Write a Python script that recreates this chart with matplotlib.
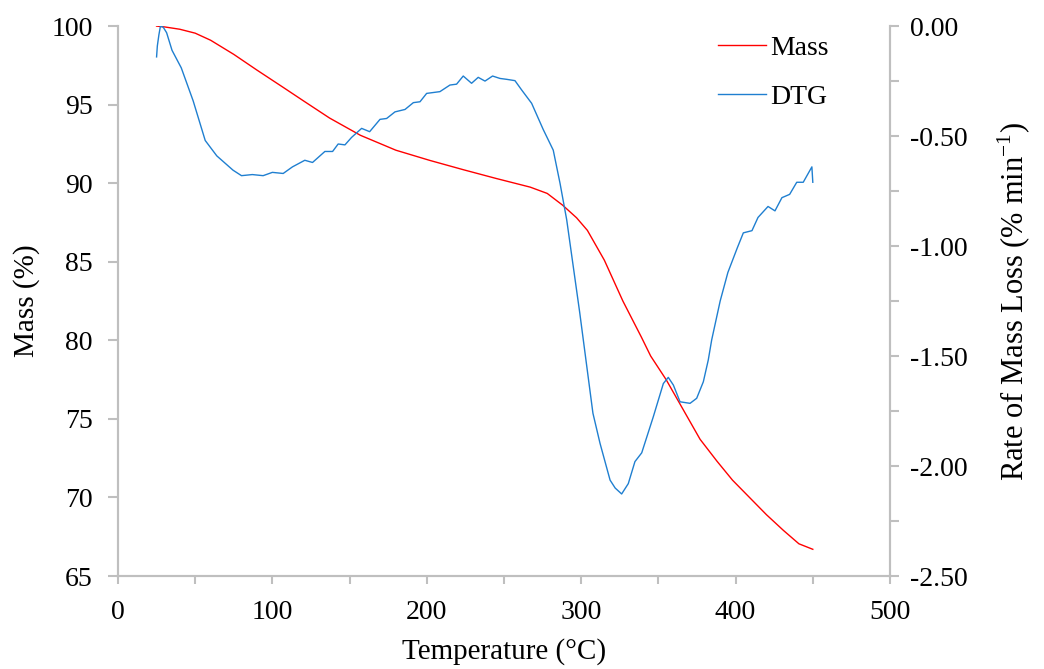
import numpy as np
import matplotlib.pyplot as plt
from matplotlib.ticker import MultipleLocator, FuncFormatter

# mass curve (left axis)
mass_temp = [25, 30, 40, 50, 60, 75, 90, 107, 120, 137, 157, 180, 202, 224, 245, 267, 278,
             288, 297, 304, 315, 327, 339, 345, 355, 366, 377, 388, 398, 411, 420, 431, 441, 450]
mass_val = [100.0, 99.95, 99.8, 99.55, 99.1, 98.2, 97.2, 96.1, 95.25, 94.15, 93.05, 92.1, 91.45,
            90.85, 90.3, 89.75, 89.35, 88.6, 87.8, 87.0, 85.1, 82.5, 80.2, 79.0, 77.5, 75.6,
            73.7, 72.3, 71.1, 69.8, 68.9, 67.9, 67.05, 66.7]

# DTG curve (right axis)
dtg_temp = [25, 25.5, 26.5, 27.5, 29.3, 31.5, 35, 41, 48.7, 56.5, 64, 74.5, 80, 87, 94, 100, 107,
            113, 121, 126, 134, 139, 142.6, 147, 151.3, 157.8, 163, 169.7, 174, 179.4, 185.9,
            191.3, 195.6, 199.9, 208.5, 215, 219.3, 223.6, 229, 233.3, 237.7, 242.6, 247.4,
            251.7, 257.1, 261.4, 267.9, 275.4, 281.9, 286.3, 290.6, 299, 307.6, 312.2, 318.7,
            322, 326.2, 330.5, 334.8, 339.2, 346.7, 353.2, 356.4, 359.7, 364, 370.5, 374.8,
            379.1, 382.3, 384.5, 390, 395, 401, 405, 410.6, 414.5, 421, 425.5, 430, 435, 439.6,
            443.8, 449.4, 450]
dtg_val = [-0.14, -0.09, -0.04, 0.0, -0.005, -0.03, -0.11, -0.19, -0.34, -0.52, -0.59, -0.655,
           -0.68, -0.675, -0.68, -0.665, -0.67, -0.64, -0.61, -0.62, -0.57, -0.57, -0.536, -0.54,
           -0.506, -0.465, -0.48, -0.424, -0.42, -0.39, -0.379, -0.348, -0.344, -0.306, -0.298,
           -0.268, -0.264, -0.227, -0.26, -0.233, -0.25, -0.227, -0.238, -0.242, -0.248, -0.29,
           -0.351, -0.47, -0.564, -0.715, -0.88, -1.30, -1.76, -1.897, -2.064, -2.10, -2.127,
           -2.08, -1.98, -1.94, -1.776, -1.625, -1.597, -1.632, -1.708, -1.715, -1.692, -1.617,
           -1.518, -1.427, -1.25, -1.12, -1.01, -0.94, -0.93, -0.87, -0.82, -0.84, -0.78,
           -0.765, -0.71, -0.71, -0.64, -0.71]

plt.rcParams['font.family'] = ['Liberation Serif', 'DejaVu Serif']
plt.rcParams['mathtext.fontset'] = 'custom'
plt.rcParams['mathtext.rm'] = 'Liberation Serif'
fs = 20      # tick labels / legend
lfs = 21     # axis titles
grey = '#bfbfbf'

fig = plt.figure(figsize=(10.44, 6.69), dpi=100)
ax1 = fig.add_axes([0.113, 0.139, 0.7395, 0.822])
ax2 = ax1.twinx()

l1, = ax1.plot(mass_temp, mass_val, color='#ff0000', lw=1.0, label='Mass')
l2, = ax2.plot(dtg_temp, dtg_val, color='#1f7fd0', lw=1.0, label='DTG')

ax1.set_xlim(0, 500)
ax1.set_ylim(65, 100)
ax2.set_ylim(-2.5, 0)

ax1.xaxis.set_major_locator(MultipleLocator(100))
ax1.xaxis.set_minor_locator(MultipleLocator(50))
ax1.yaxis.set_major_locator(MultipleLocator(5))
ax2.yaxis.set_major_locator(MultipleLocator(0.5))
ax2.yaxis.set_minor_locator(MultipleLocator(0.25))
ax2.yaxis.set_major_formatter(FuncFormatter(lambda v, p: f"{v:.2f}".replace('\u2212', '-')))

for ax in (ax1, ax2):
    for s in ax.spines.values():
        s.set_color(grey)
        s.set_linewidth(1.5)
    ax.spines['top'].set_visible(False)
    ax.tick_params(which='both', color=grey, width=1.5, length=6.5, labelsize=fs, direction='out')
ax1.tick_params(axis='x', which='both', length=6, pad=11)
ax1.tick_params(axis='y', length=7, pad=11)
ax2.tick_params(axis='y', which='both', pad=8)

ax1.set_xlabel('Temperature (°C)', fontsize=lfs, labelpad=10)
ax1.set_ylabel('Mass (%)', fontsize=lfs, labelpad=8)
ax2.set_ylabel('Rate of Mass Loss (% min$^{-1}$)', fontsize=22, labelpad=20)

ax1.legend([l1, l2], ['Mass', 'DTG'], loc='upper left', bbox_to_anchor=(0.777, 0.983),
           frameon=False, fontsize=fs, borderpad=0, borderaxespad=0, handlelength=1.75,
           handletextpad=0.15, labelspacing=0.85)

fig.savefig('out.png', dpi=100)
